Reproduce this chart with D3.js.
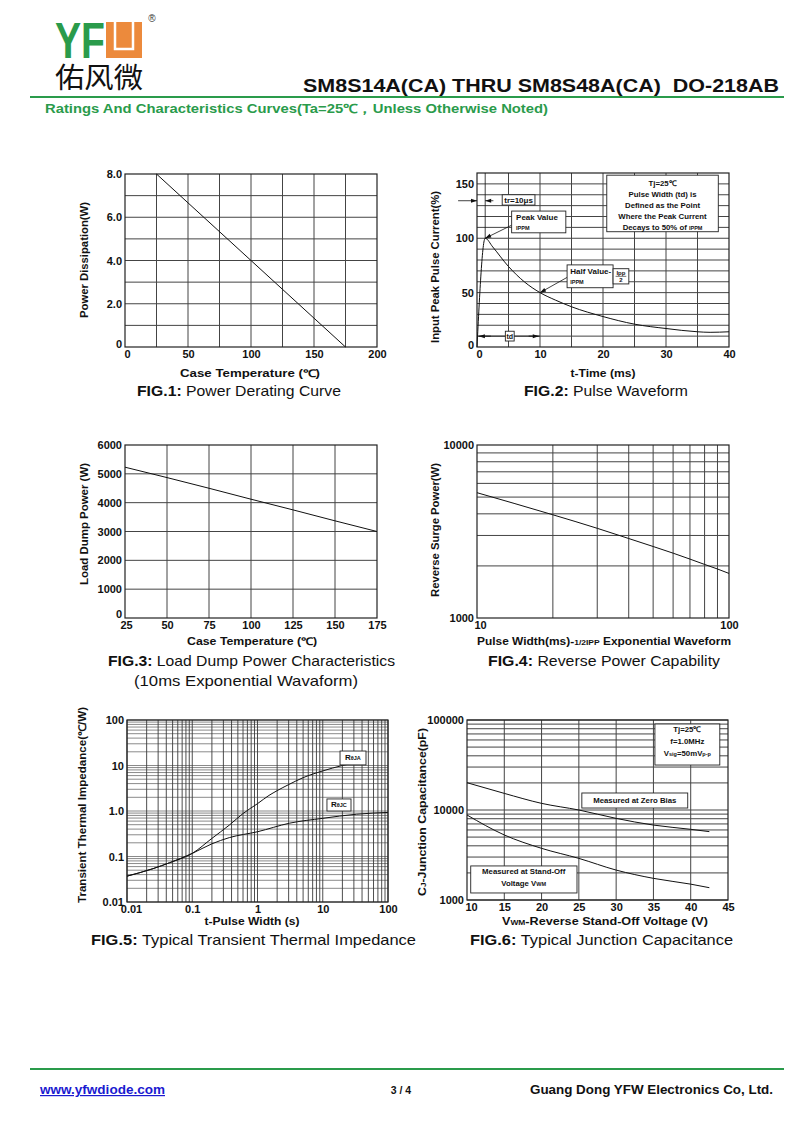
<!DOCTYPE html>
<html><head><meta charset="utf-8">
<script src="https://cdn.jsdelivr.net/npm/d3@7"></script>
<style>body{margin:0;background:#fff}svg{display:block}text{font-family:"Liberation Sans",Arial,sans-serif}</style>
</head><body><svg id="c" width="800" height="1130"></svg>
<script>
// ---------------- DATA ----------------
// Fig.1 Power derating
const fig1Temp = [25, 175];
const fig1Power = [8, 0];
const fig1XTicks = [0, 50, 100, 150, 200];
const fig1YTicks = [0, 2, 4, 6, 8];
const fig1YLabels = ["0", "2.0", "4.0", "6.0", "8.0"];
// Fig.2 Pulse waveform
const fig2Time = [0, 1.3, 2.5, 5, 7.5, 10, 12.5, 15, 20, 25, 30, 35, 37, 40];
const fig2Current = [0, 100, 92, 74, 60, 50, 43, 37, 28, 21, 17, 14, 13.5, 14];
const fig2XTicks = [0, 10, 20, 30, 40];
const fig2YTicks = [0, 50, 100, 150];
// Fig.3 Load dump power
const fig3Temp = [25, 50, 75, 100, 125, 150, 175];
const fig3Power = [5230, 4870, 4500, 4120, 3750, 3370, 3000];
const fig3XTicks = [25, 50, 75, 100, 125, 150, 175];
const fig3YTicks = [0, 1000, 2000, 3000, 4000, 5000, 6000];
// Fig.4 Reverse power capability
const fig4Width = [10, 20, 30, 40, 50, 60, 70, 80, 90, 100];
const fig4Power = [5300, 3950, 3300, 2880, 2590, 2370, 2190, 2040, 1920, 1810];
const fig4XTicks = [10, 100];
const fig4YTicks = [1000, 10000];
// Fig.5 Transient thermal impedance
const fig5TimeJA = [0.01, 0.025, 0.045, 0.1, 0.2, 0.37, 0.6, 1, 1.5, 2, 3, 5, 10, 20, 41];
const fig5RthJA = [0.037, 0.054, 0.073, 0.117, 0.25, 0.49, 0.88, 1.45, 2.2, 2.8, 3.8, 5.4, 7.6, 10, 12.3];
const fig5TimeJC = [0.01, 0.025, 0.045, 0.1, 0.2, 0.37, 1, 3.1, 10, 33, 100];
const fig5RthJC = [0.037, 0.054, 0.073, 0.117, 0.19, 0.26, 0.35, 0.54, 0.69, 0.85, 0.93];
const fig5XTicks = [0.01, 0.1, 1, 10, 100];
const fig5XLabels = ["0.01", "0.1", "1", "10", "100"];
const fig5YTicks = [0.01, 0.1, 1, 10, 100];
const fig5YLabels = ["0.01", "0.1", "1.0", "10", "100"];
// Fig.6 Junction capacitance
const fig6Volt = [10, 15, 20, 25, 30, 35, 40, 42.5];
const fig6ZeroBias = [20100, 15300, 11850, 10000, 8070, 6800, 6100, 5750];
const fig6StandOff = [8800, 5280, 3750, 2900, 2150, 1740, 1500, 1370];
const fig6XTicks = [10, 15, 20, 25, 30, 35, 40, 45];
const fig6YTicks = [1000, 10000, 100000];

// ---------------- DRAWING ----------------
const svg = d3.select('#c');
const INK = '#111', GREEN = '#2a9b4b', ORANGE = '#ec8a3c';

function frame(p) {
  svg.append('rect').attr('x', p.x0).attr('y', p.y0).attr('width', p.x1 - p.x0).attr('height', p.y1 - p.y0)
    .attr('fill', 'none').attr('stroke', '#222').attr('stroke-width', 1.2);
}
function gridV(xs, vals, p, color, w) {
  svg.append('g').selectAll('line').data(vals).join('line')
    .attr('x1', d => xs(d)).attr('x2', d => xs(d)).attr('y1', p.y0).attr('y2', p.y1)
    .attr('stroke', color).attr('stroke-width', w);
}
function gridH(ys, vals, p, color, w) {
  svg.append('g').selectAll('line').data(vals).join('line')
    .attr('y1', d => ys(d)).attr('y2', d => ys(d)).attr('x1', p.x0).attr('x2', p.x1)
    .attr('stroke', color).attr('stroke-width', w);
}
function styleAxis(g) {
  g.select('.domain').remove();
  g.attr('font-family', null).attr('font-size', null);
  g.selectAll('text').attr('font-size', 11).attr('font-weight', 'bold').attr('fill', INK)
    .style('font-family', '"Liberation Sans",Arial,sans-serif');
}
function xAxis(xs, vals, labels, p, firstDx) {
  const g = svg.append('g').attr('transform', `translate(0,${p.y1})`)
    .call(d3.axisBottom(xs).tickValues(vals).tickSize(0).tickPadding(3).tickFormat((d, i) => labels[i]));
  styleAxis(g);
  if (firstDx) g.selectAll('.tick text').filter((d, i) => i === 0).attr('dx', firstDx);
}
function yAxis(ys, vals, labels, p, lift) {
  const g = svg.append('g').attr('transform', `translate(${p.x0},0)`)
    .call(d3.axisLeft(ys).tickValues(vals).tickSize(0).tickPadding(3).tickFormat((d, i) => labels[i]));
  styleAxis(g);
  if (lift) g.selectAll('.tick text').filter((d, i) => i === 0).attr('y', -lift);
}
function richText(x, y, parts, size, opts = {}) {
  const t = svg.append('text').attr('x', x).attr('y', y).attr('font-size', size).attr('fill', opts.fill || INK)
    .attr('text-anchor', opts.anchor || 'middle');
  if (opts.bold) t.attr('font-weight', 'bold');
  if (opts.rotate) t.attr('transform', `rotate(-90,${x},${y})`);
  if (opts.len) t.attr('textLength', opts.len).attr('lengthAdjust', 'spacingAndGlyphs');
  parts.forEach(pt => {
    const s = t.append('tspan').text(pt.t);
    if (pt.s) s.attr('font-size', pt.s);
    if (pt.b !== undefined) s.attr('font-weight', pt.b ? 'bold' : 'normal');
  });
  return t;
}
function caption(num, rest, x, y, len) {
  richText(x, y, [{t: num, b: true}, {t: rest, b: false}], 15, {anchor: 'start', len: len});
}
function line(xs, ys, X, Y, curve) {
  const data = X.map((d, i) => [d, Y[i]]);
  svg.append('path').datum(data)
    .attr('d', d3.line().x(d => xs(d[0])).y(d => ys(d[1])).curve(curve || d3.curveLinear))
    .attr('fill', 'none').attr('stroke', '#111').attr('stroke-width', 1);
}
function box(x0, y0, x1, y1) {
  svg.append('rect').attr('x', Math.min(x0, x1)).attr('y', Math.min(y0, y1))
    .attr('width', Math.abs(x1 - x0)).attr('height', Math.abs(y1 - y0))
    .attr('fill', '#fff').attr('stroke', '#222').attr('stroke-width', 0.9);
}
function arrow(x0, y0, x1, y1) {
  svg.append('line').attr('x1', x0).attr('y1', y0).attr('x2', x1).attr('y2', y1).attr('stroke', '#111').attr('stroke-width', 0.8);
  const a = Math.atan2(y1 - y0, x1 - x0), L = 6, W = 2;
  const p = [[x1, y1], [x1 - L * Math.cos(a) + W * Math.sin(a), y1 - L * Math.sin(a) - W * Math.cos(a)],
             [x1 - L * Math.cos(a) - W * Math.sin(a), y1 - L * Math.sin(a) + W * Math.cos(a)]];
  svg.append('path').attr('d', 'M' + p.map(q => q.join(',')).join('L') + 'Z').attr('fill', '#111');
}
function range(a, b, s) { const r = []; for (let v = a; v <= b + 1e-9; v += s) r.push(+v.toFixed(6)); return r; }
function logGrid(lo, hi) { const r = []; for (let e = lo; e < hi; e++) for (let k = 1; k <= 9; k++) r.push(k * Math.pow(10, e)); r.push(Math.pow(10, hi)); return r; }

// ---------------- HEADER ----------------
svg.append('text').attr('x', 55).attr('y', 58).attr('font-size', 50).attr('font-weight', 'bold').attr('fill', GREEN)
  .attr('textLength', 50).attr('lengthAdjust', 'spacingAndGlyphs').text('YF');
svg.append('rect').attr('x', 106).attr('y', 22).attr('width', 36).attr('height', 36).attr('fill', ORANGE);
svg.append('path').attr('d', 'M115,22 V49 H133 V22').attr('fill', 'none').attr('stroke', '#fff').attr('stroke-width', 2.5);
svg.append('text').attr('x', 152).attr('y', 22).attr('font-size', 10).attr('text-anchor', 'middle').attr('fill', '#333').text('®');
svg.append('text').attr('x', 55).attr('y', 88).attr('font-size', 28).attr('fill', '#111')
  .style('font-family', '"Noto Sans CJK SC",sans-serif').attr('textLength', 88).attr('lengthAdjust', 'spacingAndGlyphs').text('佑风微');
svg.append('text').attr('x', 303).attr('y', 92).attr('font-size', 18).attr('font-weight', 'bold').attr('fill', INK)
  .attr('textLength', 476).attr('lengthAdjust', 'spacingAndGlyphs').text('SM8S14A(CA) THRU SM8S48A(CA) \u00A0DO-218AB');
svg.append('line').attr('x1', 30).attr('x2', 784).attr('y1', 97).attr('y2', 97).attr('stroke', GREEN).attr('stroke-width', 2.2);
svg.append('text').attr('x', 45).attr('y', 113).attr('font-size', 12.5).attr('font-weight', 'bold').attr('fill', GREEN)
  .attr('textLength', 503).attr('lengthAdjust', 'spacingAndGlyphs').text('Ratings And Characteristics Curves(Ta=25℃，Unless Otherwise Noted)');

// ---------------- FIG 1 ----------------
{
  const p = {x0: 125, x1: 377, y0: 174, y1: 347};
  const x = d3.scaleLinear().domain([0, 200]).range([p.x0, p.x1]);
  const y = d3.scaleLinear().domain([0, 8]).range([p.y1, p.y0]);
  gridV(x, range(25, 175, 25), p, '#444', 1);
  gridH(y, range(1, 7, 1), p, '#444', 1);
  frame(p);
  line(x, y, fig1Temp, fig1Power);
  xAxis(x, fig1XTicks, fig1XTicks.map(String), p, 2);
  yAxis(y, fig1YTicks, fig1YLabels, p, 3);
  richText(250, 377, [{t: 'Case Temperature (℃)'}], 10.5, {bold: true, len: 140});
  richText(88, 260, [{t: 'Power Dissipation(W)'}], 10.5, {bold: true, rotate: true, len: 116});
  caption('FIG.1:', ' Power Derating Curve', 137, 396, 204);
}

// ---------------- FIG 2 ----------------
{
  const p = {x0: 477, x1: 729, y0: 173, y1: 347};
  const x = d3.scaleLinear().domain([0, 40]).range([p.x0, p.x1]);
  const y = d3.scaleLinear().domain([0, 160]).range([p.y1, p.y0]);
  gridV(x, range(5, 35, 5), p, '#444', 1);
  gridH(y, range(10, 150, 10), p, '#444', 1);
  frame(p);
  line(x, y, fig2Time, fig2Current, d3.curveMonotoneX);
  xAxis(x, fig2XTicks, fig2XTicks.map(String), p, 2);
  yAxis(y, fig2YTicks, fig2YTicks.map(String), p, 2);
  richText(603, 377, [{t: 't-Time (ms)'}], 10.5, {bold: true, len: 65});
  richText(439, 267, [{t: 'Input Peak Pulse Current(%)'}], 10.5, {bold: true, rotate: true, len: 152});
  caption('FIG.2:', ' Pulse Waveform', 524, 396, 164);
  // tr marker
  svg.append('line').attr('x1', x(1.3)).attr('x2', x(1.3)).attr('y1', y(160)).attr('y2', y(100)).attr('stroke', '#111').attr('stroke-width', 0.8);
  arrow(x(-3), y(134.5), x(0), y(134.5));
  arrow(x(2.6), y(134.5), x(1.3), y(134.5));
  box(x(4), y(140), x(9.2), y(130.5));
  richText(x(6.6), y(132.5), [{t: 'tr=10μs'}], 8, {bold: true});
  // peak value
  arrow(x(5.5), y(112), x(1.3), y(100));
  box(x(5.5), y(125), x(14.1), y(105));
  richText(x(6.2), y(117), [{t: 'Peak Value'}], 8, {bold: true, anchor: 'start'});
  richText(x(6.2), y(108), [{t: 'IPPM'}], 5.5, {bold: true, anchor: 'start'});
  // half value
  arrow(x(14.3), y(64), x(10), y(50));
  box(x(14.3), y(75.5), x(21.6), y(54.5));
  richText(x(14.8), y(67), [{t: 'Half Value-'}], 8, {bold: true, anchor: 'start'});
  richText(x(14.8), y(57.5), [{t: 'IPPM'}], 5.5, {bold: true, anchor: 'start'});
  box(x(21.6), y(72), x(24.1), y(58));
  richText(x(22.85), y(66), [{t: 'Ipp'}], 6, {bold: true});
  svg.append('line').attr('x1', x(22)).attr('x2', x(23.7)).attr('y1', y(65)).attr('y2', y(65)).attr('stroke', '#111').attr('stroke-width', 0.6);
  richText(x(22.85), y(59.5), [{t: '2'}], 6, {bold: true});
  // td marker
  svg.append('line').attr('x1', x(0)).attr('x2', x(10)).attr('y1', y(10)).attr('y2', y(10)).attr('stroke', '#111').attr('stroke-width', 0.8);
  arrow(x(2.2), y(10), x(0.3), y(10));
  arrow(x(8.2), y(10), x(9.8), y(10));
  box(x(4.5), y(14.5), x(5.9), y(5.5));
  richText(x(5.2), y(7), [{t: 'td'}], 7, {bold: true});
  // info box
  box(x(20.6), y(158), x(38.3), y(106));
  const cx = x(29.45);
  richText(cx, y(148), [{t: 'Tj=25℃'}], 7.8, {bold: true});
  richText(cx, y(138), [{t: 'Pulse Width (td) is'}], 7.8, {bold: true});
  richText(cx, y(128), [{t: 'Defined as the Point'}], 7.8, {bold: true});
  richText(cx, y(118), [{t: 'Where the Peak Current'}], 7.8, {bold: true});
  richText(cx, y(108), [{t: 'Decays to 50% of '}, {t: 'IPPM', s: 5.5}], 7.8, {bold: true});
}

// ---------------- FIG 3 ----------------
{
  const p = {x0: 125, x1: 377, y0: 445, y1: 618};
  const x = d3.scaleLinear().domain([25, 175]).range([p.x0, p.x1]);
  const y = d3.scaleLinear().domain([0, 6000]).range([p.y1, p.y0]);
  gridV(x, range(50, 150, 25), p, '#444', 1);
  gridH(y, range(1000, 5000, 1000), p, '#444', 1);
  frame(p);
  line(x, y, fig3Temp, fig3Power);
  xAxis(x, fig3XTicks, fig3XTicks.map(String), p, 1);
  yAxis(y, fig3YTicks, fig3YTicks.map(String), p, 4);
  richText(252, 645, [{t: 'Case Temperature (℃)'}], 10.5, {bold: true, len: 130});
  richText(88, 524, [{t: 'Load Dump Power (W)'}], 10.5, {bold: true, rotate: true, len: 122});
  caption('FIG.3:', ' Load Dump Power Characteristics', 108, 666, 287);
  richText(246, 686, [{t: '(10ms Exponential Wavaform)'}], 15, {len: 224});
}

// ---------------- FIG 4 ----------------
{
  const p = {x0: 477, x1: 729, y0: 445, y1: 618};
  const x = d3.scaleLog().domain([10, 100]).range([p.x0, p.x1]);
  const y = d3.scaleLog().domain([1000, 10000]).range([p.y1, p.y0]);
  gridV(x, range(20, 90, 10), p, '#444', 1);
  gridH(y, range(2000, 9000, 1000), p, '#444', 1);
  frame(p);
  line(x, y, fig4Width, fig4Power, d3.curveMonotoneX);
  xAxis(x, fig4XTicks, fig4XTicks.map(String), p, 3);
  yAxis(y, fig4YTicks, fig4YTicks.map(String), p);
  richText(604, 645, [{t: 'Pulse Width(ms)-'}, {t: '1/2IPP', s: 7.5}, {t: ' Exponential Waveform'}], 10.5, {bold: true, len: 254});
  richText(439, 530, [{t: 'Reverse Surge Power(W)'}], 10.5, {bold: true, rotate: true, len: 134});
  caption('FIG.4:', ' Reverse Power Capability', 488, 666, 232);
}

// ---------------- FIG 5 ----------------
{
  const p = {x0: 127, x1: 388, y0: 720, y1: 902};
  const x = d3.scaleLog().domain([0.01, 100]).range([p.x0, p.x1]);
  const y = d3.scaleLog().domain([0.01, 100]).range([p.y1, p.y0]);
  gridH(y, logGrid(-2, 2), p, '#8a8a8a', 1);
  gridV(x, logGrid(-2, 2), p, '#3a3a3a', 0.9);
  frame(p);
  line(x, y, fig5TimeJA, fig5RthJA, d3.curveMonotoneX);
  line(x, y, fig5TimeJC, fig5RthJC, d3.curveMonotoneX);
  xAxis(x, fig5XTicks, fig5XLabels, p, 4);
  yAxis(y, fig5YTicks, fig5YLabels, p);
  richText(252, 925, [{t: 't-Pulse Width (s)'}], 10.5, {bold: true, len: 95});
  richText(86, 805, [{t: 'Transient Thermal Impedance(℃/W)'}], 10.5, {bold: true, rotate: true, len: 196});
  caption('FIG.5:', ' Typical Transient Thermal Impedance', 91, 945, 325);
  box(x(18.4), y(20.8), x(46), y(10.3));
  richText(x(29), y(13.5), [{t: 'R'}, {t: 'θJA', s: 5.5}], 8, {bold: true});
  box(x(11.6), y(1.84), x(27.1), y(1.0));
  richText(x(17.7), y(1.22), [{t: 'R'}, {t: 'θJC', s: 5.5}], 8, {bold: true});
}

// ---------------- FIG 6 ----------------
{
  const p = {x0: 467, x1: 728, y0: 720, y1: 900};
  const x = d3.scaleLinear().domain([10, 45]).range([p.x0, p.x1]);
  const y = d3.scaleLog().domain([1000, 100000]).range([p.y1, p.y0]);
  gridV(x, range(15, 40, 5), p, '#444', 1);
  gridH(y, logGrid(3, 5), p, '#444', 1);
  frame(p);
  line(x, y, fig6Volt, fig6ZeroBias, d3.curveMonotoneX);
  line(x, y, fig6Volt, fig6StandOff, d3.curveMonotoneX);
  xAxis(x, fig6XTicks, fig6XTicks.map(String), p, 4);
  yAxis(y, fig6YTicks, fig6YTicks.map(String), p);
  richText(605, 925, [{t: 'V'}, {t: 'WM', s: 7}, {t: '-Reverse Stand-Off Voltage (V)'}], 10.5, {bold: true, len: 206});
  richText(426, 812, [{t: 'C'}, {t: 'J', s: 7}, {t: '-Junction Capacitance(pF)'}], 10.5, {bold: true, rotate: true, len: 168});
  caption('FIG.6:', ' Typical Junction Capacitance', 470, 945, 263);
  box(x(35.2), y(90300), x(43.9), y(31600));
  const cx = x(39.55);
  richText(cx, y(74000), [{t: 'Tj=25℃'}], 7.8, {bold: true});
  richText(cx, y(54000), [{t: 'f=1.0MHz'}], 7.8, {bold: true});
  richText(cx, y(39500), [{t: 'V'}, {t: 'sig', s: 5.5}, {t: '=50mV'}, {t: 'p-p', s: 5.5}], 7.8, {bold: true});
  box(x(25.4), y(15450), x(39.6), y(10520));
  richText(x(32.5), y(11900), [{t: 'Measured at Zero Bias'}], 7.8, {bold: true});
  box(x(10.5), y(2390), x(24.75), y(1197));
  richText(x(17.6), y(1930), [{t: 'Measured at Stand-Off'}], 7.8, {bold: true});
  richText(x(17.6), y(1440), [{t: 'Voltage V'}, {t: 'WM', s: 5.5}], 7.8, {bold: true});
}

// ---------------- FOOTER ----------------
svg.append('line').attr('x1', 30).attr('x2', 784).attr('y1', 1069).attr('y2', 1069).attr('stroke', GREEN).attr('stroke-width', 2.2);
svg.append('text').attr('x', 40).attr('y', 1094).attr('font-size', 12).attr('font-weight', 'bold').attr('fill', '#1a1ad0')
  .attr('text-decoration', 'underline').attr('textLength', 125).attr('lengthAdjust', 'spacingAndGlyphs').text('www.yfwdiode.com');
svg.append('text').attr('x', 401).attr('y', 1094).attr('font-size', 10.5).attr('font-weight', 'bold').attr('fill', INK)
  .attr('text-anchor', 'middle').text('3 / 4');
svg.append('text').attr('x', 530).attr('y', 1094).attr('font-size', 12.5).attr('font-weight', 'bold').attr('fill', INK)
  .attr('textLength', 243).attr('lengthAdjust', 'spacingAndGlyphs').text('Guang Dong YFW Electronics Co, Ltd.');
</script></body></html>
